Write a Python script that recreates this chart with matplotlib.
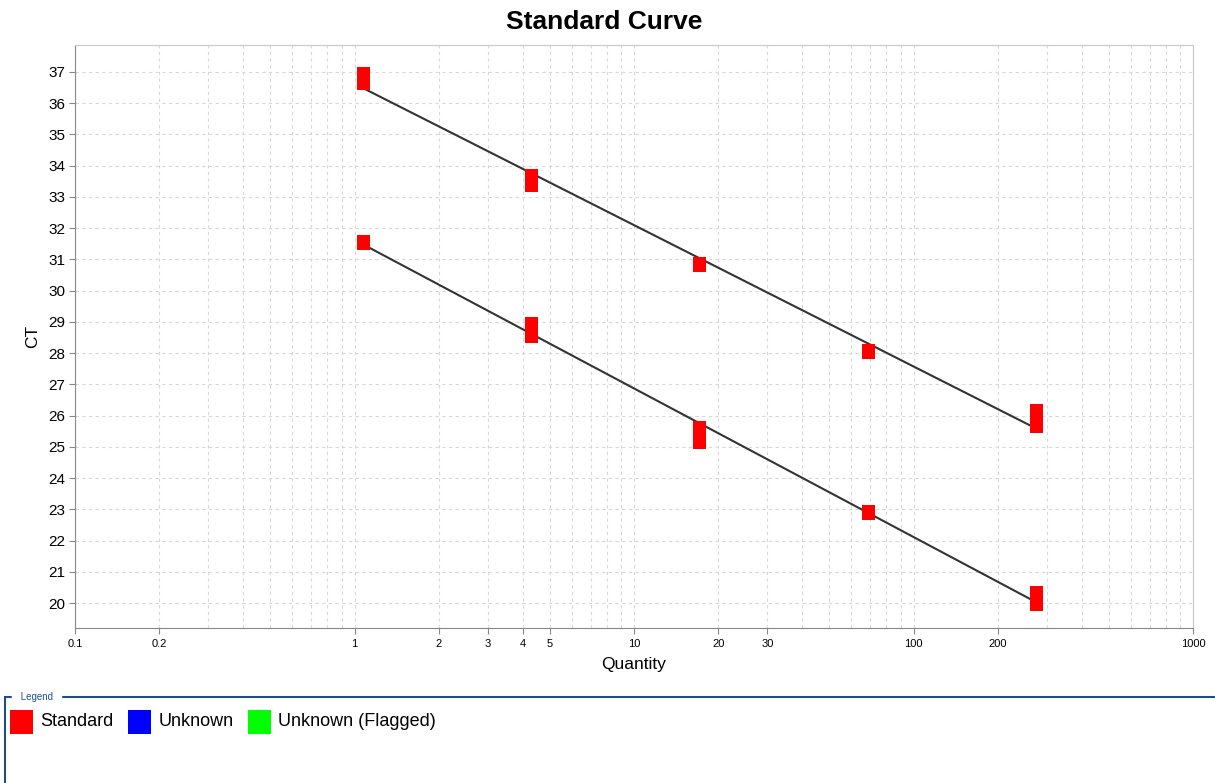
import matplotlib
matplotlib.use("Agg")
import matplotlib.pyplot as plt
import numpy as np
from matplotlib.patches import Rectangle
from matplotlib.ticker import FixedLocator, LogLocator, NullFormatter

plt.rcParams['font.family'] = ['Liberation Sans', 'DejaVu Sans']

# dilution series (4x) and Ct replicates for the two standard curves
quantity = np.array([1.07, 4.28, 17.1, 68.5, 274.0])
ct_upper_a = np.array([36.94, 33.67, 30.85, 28.07, 26.15])
ct_upper_b = np.array([36.68, 33.41, 30.85, 28.07, 25.70])
ct_lower_a = np.array([31.56, 28.93, 25.60, 22.92, 20.32])
ct_lower_b = np.array([31.56, 28.58, 25.19, 22.92, 20.00])

x_ticks = [0.1, 0.2, 1, 2, 3, 4, 5, 10, 20, 30, 100, 200, 1000]
x_tick_labels = ["0.1", "0.2", "1", "2", "3", "4", "5", "10", "20", "30", "100", "200", "1000"]
y_ticks = list(range(20, 38))

legend_names = ["Standard", "Unknown", "Unknown (Flagged)"]
legend_colors = ["#ff0000", "#0000ff", "#00ff00"]

fig = plt.figure(figsize=(12.15, 7.83), dpi=100)
ax = fig.add_axes([75/1215, 1-628/783, (1193-75)/1215, (628-45)/783])

ax.set_xscale("log")
ax.set_xlim(0.1, 1000)
ax.set_ylim(19.2, 37.86)

# regression lines
for a, b in [(ct_upper_a, ct_upper_b), (ct_lower_a, ct_lower_b)]:
    lx = np.concatenate([np.log10(quantity), np.log10(quantity)])
    ly = np.concatenate([a, b])
    k, c = np.polyfit(lx, ly, 1)
    xs = np.array([quantity[0], quantity[-1]])
    ax.plot(xs, k*np.log10(xs)+c, color="#333333", lw=1.5, zorder=2)

# rectangle marker 13x15 px
rect = [(-6.5, -7.5), (6.5, -7.5), (6.5, 7.5), (-6.5, 7.5), (-6.5, -7.5)]
for arr in [ct_upper_a, ct_upper_b, ct_lower_a, ct_lower_b]:
    ax.plot(quantity, arr, ls="none", marker=rect, markersize=10.8,
            color="#ff0000", markeredgewidth=0, zorder=3)

ax.xaxis.set_major_locator(FixedLocator(x_ticks))
ax.set_xticklabels(x_tick_labels, fontsize=8)
ax.xaxis.set_minor_locator(LogLocator(base=10, subs=np.arange(2, 10)))
ax.xaxis.set_minor_formatter(NullFormatter())
ax.set_yticks(y_ticks)
ax.tick_params(axis="y", labelsize=11, length=4, color="#888888", pad=3)
ax.tick_params(axis="x", which="major", length=4, color="#888888", pad=4)
ax.tick_params(axis="x", which="minor", length=0)

ax.grid(True, which="both", axis="x", color="#d8d8d8", ls=(0, (3, 3)), lw=0.8)
ax.grid(True, which="major", axis="y", color="#d8d8d8", ls=(0, (3, 3)), lw=0.8)
ax.set_axisbelow(True)

for s in ["left", "bottom"]:
    ax.spines[s].set_color("#888888")
for s in ["top", "right"]:
    ax.spines[s].set_color("#c8c8c8")

ax.set_xlabel("Quantity", fontsize=12.5, labelpad=6)
ax.set_ylabel("CT", fontsize=12.5, labelpad=6)

fig.text(0.497, 1-22/783, "Standard Curve", fontsize=19, fontweight="bold",
         ha="center", va="center")

# legend panel
frame = Rectangle((5/1215, -0.02), 1.1, (783-697)/783+0.02, transform=fig.transFigure,
                  fill=False, edgecolor="#1f4f7a", lw=1.5)
fig.patches.append(frame)
fig.text(18/1215, 1-697/783, " Legend ", fontsize=7, color="#1f4f9a",
         ha="left", va="center", backgroundcolor="white")

lx0 = 10
for name, col in zip(legend_names, legend_colors):
    fig.patches.append(Rectangle((lx0/1215, 1-734/783), 23/1215, 24/783,
                                 transform=fig.transFigure, facecolor=col,
                                 edgecolor="none"))
    t = fig.text((lx0+30)/1215, 1-722/783, name, fontsize=13, ha="left", va="center")
    fig.canvas.draw()
    bb = t.get_window_extent()
    lx0 = bb.x1 + 15

fig.savefig("out.png", dpi=100, facecolor="white")
